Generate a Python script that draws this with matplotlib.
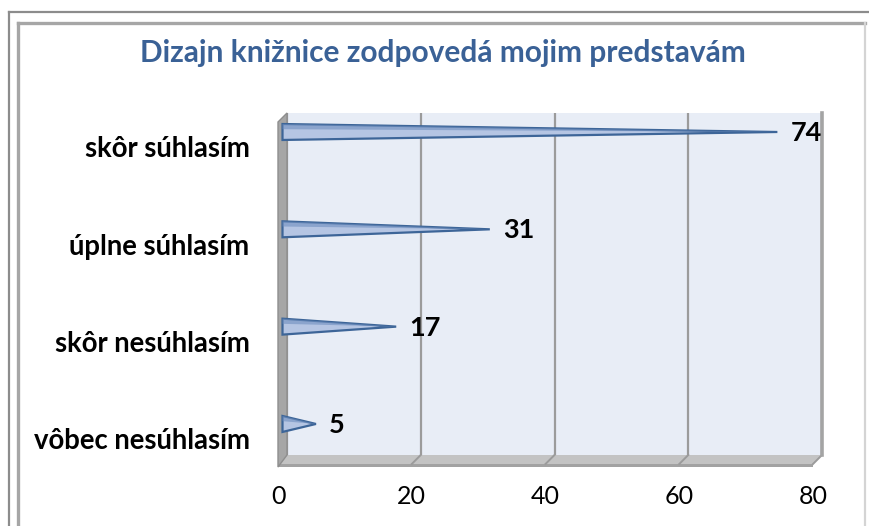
import matplotlib
matplotlib.use("Agg")
import matplotlib.pyplot as plt
from matplotlib.patches import Polygon
from matplotlib.lines import Line2D
from matplotlib.transforms import ScaledTranslation

# data (bottom -> top)
categories = ["vôbec nesúhlasím", "skôr nesúhlasím", "úplne súhlasím", "skôr súhlasím"]
values = [5, 17, 31, 74]
x_ticks = [0, 20, 40, 60, 80]
title = "Dizajn knižnice zodpovedá mojim predstavám"

W, H, DPI = 869, 526, 100
BLUE_DARK = "#3d6598"
BLUE_FILL = "#b5c5e3"
TITLE_BLUE = "#3a6196"
PLOT_BG = "#e8edf6"

plt.rcParams["font.family"] = ["Lato", "DejaVu Sans"]

fig = plt.figure(figsize=(W / DPI, H / DPI), dpi=DPI)


def fx(px):
    return px / W


def fy(py):
    return 1 - py / H


def px_off(dx, dy):
    # offset in pixels (y down positive)
    return ScaledTranslation(dx / DPI, -dy / DPI, fig.dpi_scale_trans)


# back plane of the 3d plot
left, right, top, bottom = 287, 822, 113, 455
ax = fig.add_axes([fx(left), fy(bottom), fx(right - left), fy(top) - fy(bottom)])
ax.set_facecolor(PLOT_BG)
ax.set_xlim(0, 80)
ax.set_ylim(-0.36, 3.154)
for s in ax.spines.values():
    s.set_visible(False)

ax.set_xticks(x_ticks)
ax.tick_params(axis="x", length=0, labelbottom=False)
ax.grid(axis="x", color="#9b9b9b", lw=1.6, zorder=0)
ax.set_axisbelow(True)

ypos = list(range(len(categories)))
ax.set_yticks([y - 0.195 for y in ypos])
ax.set_yticklabels(categories, fontsize=19.8, fontweight="bold")
ax.tick_params(axis="y", length=0, pad=27)

# depth of the 3d box in pixels
depth = 9
dx_ax = depth / (right - left)
dy_ax = depth / (bottom - top)
dx_data = depth / ((right - left) / 80)
edge_h = 3 / (bottom - top)

# floor
floor = Polygon([(0, 0), (1, 0), (1 - dx_ax, -dy_ax), (-dx_ax, -dy_ax)],
                closed=True, transform=ax.transAxes, facecolor="#c3c3c3",
                edgecolor="none", clip_on=False, zorder=1)
ax.add_patch(floor)
front = Polygon([(-dx_ax, -dy_ax), (1 - dx_ax, -dy_ax),
                 (1 - dx_ax, -dy_ax - edge_h), (-dx_ax, -dy_ax - edge_h)],
                closed=True, transform=ax.transAxes, facecolor="#a2a2a2",
                edgecolor="none", clip_on=False, zorder=1)
ax.add_patch(front)
for xv in x_ticks[1:]:
    ax.add_line(Line2D([xv, xv - dx_data], [0, -dy_ax], transform=ax.get_xaxis_transform(),
                       color="#9b9b9b", lw=1.4, clip_on=False, zorder=1))

# left wall
wall = Polygon([(0, 1), (0, 0), (-dx_ax, -dy_ax - edge_h), (-dx_ax, 1 - dy_ax)],
               closed=True, transform=ax.transAxes, facecolor="#a6a6a6",
               edgecolor="#8e8e8e", lw=1, clip_on=False, zorder=2)
ax.add_patch(wall)
# right edge
ax.add_line(Line2D([1, 1], [0, 1], transform=ax.transAxes, color="#a4a4a4",
                   lw=2.6, clip_on=False, zorder=2))

# cone bars, drawn in the middle depth plane
bar_tr = ax.transData + px_off(-4.5, 4)
half = 0.082
for y, v in zip(ypos, values):
    cone = Polygon([(0, y - half), (v, y), (0, y + half)], closed=True,
                   facecolor=BLUE_FILL, edgecolor=BLUE_DARK, lw=1.6,
                   transform=bar_tr, zorder=3, clip_on=False)
    ax.add_patch(cone)
    upper = Polygon([(0, y + half * 0.35), (v, y), (0, y + half)], closed=True,
                    facecolor="#6f8fbf", edgecolor="none", alpha=0.6,
                    transform=bar_tr, zorder=3, clip_on=False)
    ax.add_patch(upper)
    ax.text(v, y, str(v), transform=bar_tr + px_off(13, 1), ha="left", va="center",
            fontsize=19.5, fontweight="bold", color="black", zorder=4)

# x tick labels at the front edge of the floor
for xv in x_ticks:
    ax.text(xv, 0, str(xv), transform=ax.get_xaxis_transform() + px_off(-9, 42),
            ha="center", va="center", fontsize=18, color="black")

# title
fig.text(fx(443), fy(53), title, ha="center", va="center", fontsize=21.5,
         fontweight="bold", color=TITLE_BLUE)

# chart frame
frame_tr = fig.transFigure
fig.add_artist(Line2D([fx(9), fx(9)], [fy(12), 0], transform=frame_tr, color="#8c8c8c", lw=1.6))
fig.add_artist(Line2D([fx(9), 1], [fy(12), fy(12)], transform=frame_tr, color="#8c8c8c", lw=1.6))
fig.add_artist(Line2D([fx(18), fx(18)], [fy(23), 0], transform=frame_tr, color="#a6a6a6", lw=2.4))
fig.add_artist(Line2D([fx(18), fx(865)], [fy(23), fy(23)], transform=frame_tr, color="#a6a6a6", lw=2.4))
fig.add_artist(Line2D([fx(865), fx(865)], [fy(23), 0], transform=frame_tr, color="#d4d4d4", lw=1.6))

fig.savefig("out.png", dpi=DPI)
